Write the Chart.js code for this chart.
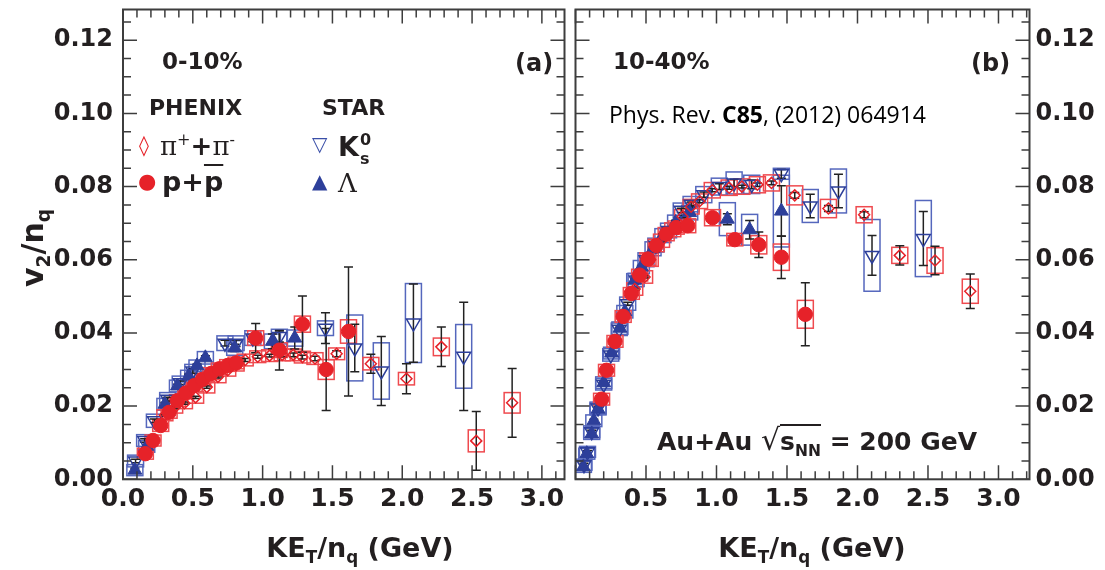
<!DOCTYPE html>
<html>
<head>
<meta charset="utf-8">
<script src="https://cdn.jsdelivr.net/npm/chart.js@4.4.1/dist/chart.umd.min.js"></script>
<style>
  body { margin: 0; background: #fff; }
  #wrap { position: relative; width: 1105px; height: 570px; overflow: hidden;
          font-family: "DejaVu Sans", sans-serif; font-weight: bold; color: #231f20; }
  canvas { position: absolute; top: 0; }
  #cA { left: 0; }
  #cB { left: 566px; }
  .t { position: absolute; white-space: nowrap; line-height: 1; }
  .t sub, .t sup { font-size: 62%; line-height: 0; }
</style>
</head>
<body>
<div id="wrap">
  <canvas id="cA" width="574" height="570"></canvas>
  <canvas id="cB" width="539" height="570"></canvas>

  <!-- panel (a) labels -->
  <div class="t" style="left:162px;top:50px;font-size:23px">0-10%</div>
  <div class="t" style="left:515px;top:51px;font-size:24px">(a)</div>
  <div class="t" style="left:149px;top:97px;font-size:22px">PHENIX</div>
  <div class="t" style="left:322px;top:97px;font-size:22px">STAR</div>

  <div class="t" style="left:139px;top:135px;font-size:20px;color:#e62229;font-weight:normal">◊</div>
  <div class="t" style="left:160px;top:133px;font-size:26px;font-family:'DejaVu Serif';font-weight:normal">π<sup>+</sup><span style="font-family:'DejaVu Sans';font-weight:bold">+</span>π<sup>-</sup></div>
  <div class="t" style="left:138px;top:171px;font-size:21px;color:#e62229;font-weight:normal">●</div>
  <div class="t" style="left:162px;top:168px;font-size:27px">p+<span style="text-decoration:overline">p</span></div>

  <div class="t" style="left:312px;top:134px;font-size:20px;color:#3a4fa8;font-weight:normal">▽</div>
  <div class="t" style="left:338px;top:133px;font-size:27px">K<span style="position:relative;display:inline-block;width:14px;height:1px"><span style="position:absolute;left:1px;top:-23px;font-size:16px">0</span><span style="position:absolute;left:1px;top:-4px;font-size:16px">s</span></span></div>
  <div class="t" style="left:312px;top:171px;font-size:20px;color:#2d3f9a;font-weight:normal">▲</div>
  <div class="t" style="left:338px;top:170px;font-size:26px;font-family:'DejaVu Serif';font-weight:normal">Λ</div>

  <!-- panel (b) labels -->
  <div class="t" style="left:613px;top:50px;font-size:23px">10-40%</div>
  <div class="t" style="left:971px;top:51px;font-size:24px">(b)</div>
  <div class="t" style="left:609px;top:103px;font-size:23px;font-family:'Open Sans';font-weight:normal;color:#000">Phys. Rev. <b>C85</b>, (2012) 064914</div>
  <div class="t" style="left:657px;top:425px;font-size:25px">Au+Au <span style="font-weight:normal;font-size:30px">√</span><span style="border-top:2px solid #231f20;padding-top:1px">s<sub>NN</sub></span> = 200 GeV</div>

  <!-- axis titles -->
  <div class="t" style="left:-27px;top:233px;width:120px;text-align:center;font-size:30px;transform:rotate(-90deg)">v<sub>2</sub>/n<sub>q</sub></div>
  <div class="t" style="left:160px;top:534px;width:400px;text-align:center;font-size:27px">KE<sub>T</sub>/n<sub>q</sub> (GeV)</div>
  <div class="t" style="left:612px;top:534px;width:400px;text-align:center;font-size:27px">KE<sub>T</sub>/n<sub>q</sub> (GeV)</div>
</div>

<script>
// each point: [KE_T/n_q, v2/n_q, stat error, sys error]
const protonA = [
  [0.16, 0.0070, 0.0004, 0.0015], [0.215, 0.0106, 0.0004, 0.0015], [0.27, 0.0147, 0.0004, 0.0016],
  [0.33, 0.0183, 0.0004, 0.0016], [0.39, 0.0215, 0.0004, 0.0016], [0.45, 0.0236, 0.0004, 0.0016],
  [0.51, 0.0256, 0.0004, 0.0016], [0.57, 0.0273, 0.0005, 0.0016], [0.63, 0.0289, 0.0005, 0.0016],
  [0.69, 0.0302, 0.0005, 0.0016], [0.75, 0.0311, 0.0006, 0.0016], [0.81, 0.0318, 0.0007, 0.0016],
  [0.95, 0.0386, 0.0040, 0.0020], [1.12, 0.0353, 0.0054, 0.0020], [1.285, 0.0424, 0.0077, 0.0022],
  [1.455, 0.0300, 0.0112, 0.0027], [1.615, 0.0404, 0.0176, 0.0032]
];
const pionA = [
  [0.30, 0.0175, 0.0003, 0.0015], [0.37, 0.0196, 0.0003, 0.0015], [0.44, 0.0208, 0.0003, 0.0015],
  [0.52, 0.0224, 0.0003, 0.0016], [0.60, 0.0252, 0.0003, 0.0016], [0.68, 0.0280, 0.0003, 0.0016],
  [0.75, 0.0298, 0.0003, 0.0016], [0.81, 0.0312, 0.0003, 0.0016], [0.875, 0.0326, 0.0004, 0.0016],
  [0.965, 0.0335, 0.0004, 0.0016], [1.05, 0.0338, 0.0004, 0.0016], [1.14, 0.0340, 0.0005, 0.0016],
  [1.22, 0.0340, 0.0005, 0.0016], [1.285, 0.0334, 0.0005, 0.0016], [1.375, 0.0330, 0.0006, 0.0016],
  [1.53, 0.0343, 0.0008, 0.0016], [1.775, 0.0316, 0.0026, 0.0017], [2.03, 0.0275, 0.0041, 0.0017],
  [2.28, 0.0362, 0.0054, 0.0024], [2.53, 0.0105, 0.0080, 0.0030], [2.787, 0.0209, 0.0094, 0.0028]
];
const lambdaA = [
  [0.085, 0.0025, 0.0005, 0.0015], [0.17, 0.0090, 0.0005, 0.0016], [0.30, 0.0205, 0.0005, 0.0016],
  [0.39, 0.0255, 0.0005, 0.0016], [0.47, 0.0282, 0.0005, 0.0016], [0.53, 0.0310, 0.0005, 0.0016],
  [0.59, 0.0332, 0.0006, 0.0017], [0.80, 0.0359, 0.0010, 0.0020], [1.07, 0.0377, 0.0020, 0.0020],
  [1.23, 0.0386, 0.0030, 0.0022]
];
const kaonA = [
  [0.09, 0.0050, 0.0005, 0.0016], [0.155, 0.0106, 0.0005, 0.0016], [0.225, 0.0160, 0.0005, 0.0018],
  [0.32, 0.0219, 0.0005, 0.0018], [0.41, 0.0264, 0.0005, 0.0018], [0.50, 0.0296, 0.0006, 0.0018],
  [0.73, 0.0372, 0.0008, 0.0020], [0.81, 0.0372, 0.0009, 0.0020], [0.93, 0.0386, 0.0010, 0.0020],
  [1.12, 0.0390, 0.0015, 0.0020], [1.45, 0.0413, 0.0042, 0.0020], [1.66, 0.0359, 0.0065, 0.0090],
  [1.85, 0.0296, 0.0094, 0.0077], [2.08, 0.0427, 0.0107, 0.0108], [2.44, 0.0336, 0.0148, 0.0087]
];

const protonB = [
  [0.185, 0.0219, 0.0003, 0.0016], [0.22, 0.0298, 0.0003, 0.0016], [0.28, 0.0377, 0.0003, 0.0016],
  [0.338, 0.0445, 0.0003, 0.0016], [0.396, 0.0508, 0.0003, 0.0016], [0.455, 0.0558, 0.0003, 0.0016],
  [0.514, 0.0602, 0.0003, 0.0017], [0.573, 0.0639, 0.0004, 0.0017], [0.643, 0.0670, 0.0004, 0.0018],
  [0.714, 0.0688, 0.0004, 0.0018], [0.796, 0.0693, 0.0005, 0.0019], [0.972, 0.0715, 0.0008, 0.0022],
  [1.13, 0.0655, 0.0010, 0.0017], [1.30, 0.0641, 0.0035, 0.0025], [1.46, 0.0607, 0.0058, 0.0036],
  [1.63, 0.0451, 0.0086, 0.0038]
];
const pionB = [
  [0.42, 0.0520, 0.0003, 0.0017], [0.49, 0.0553, 0.0003, 0.0017], [0.53, 0.0600, 0.0003, 0.0018],
  [0.61, 0.0652, 0.0003, 0.0018], [0.69, 0.0682, 0.0003, 0.0019], [0.76, 0.0718, 0.0003, 0.0019],
  [0.82, 0.0745, 0.0003, 0.0020], [0.88, 0.0760, 0.0004, 0.0020], [0.97, 0.0790, 0.0004, 0.0021],
  [1.09, 0.0797, 0.0004, 0.0021], [1.18, 0.0800, 0.0004, 0.0021], [1.29, 0.0805, 0.0005, 0.0022],
  [1.39, 0.0810, 0.0005, 0.0022], [1.555, 0.0776, 0.0008, 0.0026], [1.794, 0.0740, 0.0008, 0.0025],
  [2.047, 0.0723, 0.0008, 0.0022], [2.30, 0.0612, 0.0026, 0.0022], [2.55, 0.0598, 0.0039, 0.0035],
  [2.80, 0.0514, 0.0047, 0.0033]
];
const lambdaB = [
  [0.056, 0.0034, 0.0004, 0.0015], [0.08, 0.0070, 0.0004, 0.0015], [0.115, 0.0124, 0.0004, 0.0015],
  [0.13, 0.0160, 0.0004, 0.0016], [0.16, 0.0192, 0.0004, 0.0016], [0.20, 0.0264, 0.0004, 0.0016],
  [0.256, 0.0345, 0.0004, 0.0016], [0.315, 0.0413, 0.0004, 0.0017], [0.35, 0.0458, 0.0004, 0.0017],
  [0.42, 0.0544, 0.0004, 0.0018], [0.467, 0.0580, 0.0004, 0.0018], [0.55, 0.0630, 0.0005, 0.0019],
  [0.62, 0.0666, 0.0005, 0.0019], [0.71, 0.0702, 0.0006, 0.0020], [0.81, 0.0729, 0.0007, 0.0020],
  [1.077, 0.0711, 0.0015, 0.0045], [1.235, 0.0682, 0.0025, 0.0042], [1.46, 0.0733, 0.0069, 0.0098]
];
const kaonB = [
  [0.06, 0.0040, 0.0004, 0.0015], [0.085, 0.0075, 0.0004, 0.0015], [0.115, 0.0130, 0.0004, 0.0016],
  [0.16, 0.0195, 0.0004, 0.0016], [0.20, 0.0260, 0.0004, 0.0016], [0.25, 0.0340, 0.0004, 0.0017],
  [0.31, 0.0410, 0.0004, 0.0017], [0.37, 0.0480, 0.0004, 0.0018], [0.43, 0.0545, 0.0004, 0.0018],
  [0.50, 0.0600, 0.0005, 0.0019], [0.57, 0.0640, 0.0005, 0.0019], [0.66, 0.0680, 0.0005, 0.0020],
  [0.75, 0.0735, 0.0006, 0.0020], [0.82, 0.0752, 0.0006, 0.0021], [0.91, 0.0778, 0.0007, 0.0022],
  [1.02, 0.0800, 0.0008, 0.0023], [1.125, 0.0810, 0.0010, 0.0030], [1.25, 0.0806, 0.0012, 0.0025],
  [1.46, 0.0835, 0.0012, 0.0015], [1.665, 0.0747, 0.0032, 0.0045], [1.865, 0.0788, 0.0046, 0.0060],
  [2.103, 0.0612, 0.0054, 0.0098], [2.467, 0.0658, 0.0074, 0.0104]
];

const yMax = 0.1284;
const xMaxA = 3.162;
const xMaxB = 3.22;

const RED = '#e62229', RED_BOX = '#ef4a4f';
const BLUE = '#2d3f9a', BLUE_BOX = '#5567bd';
const INK = '#231f20';

function toPts(arr) {
    return arr.map(d => ({ x: d[0], y: d[1], stat: d[2], sys: d[3] }));
}

function makeSets(proton, pion, lambda, kaon) {
    // index 0 is drawn on top
    return [
        { label: 'p+pbar', data: toPts(proton), pointStyle: 'circle', pointRadius: 7.2,
          backgroundColor: RED, borderColor: RED, borderWidth: 1, boxColor: RED_BOX },
        { label: 'pi', data: toPts(pion), pointStyle: 'rectRot', pointRadius: 5.5,
          backgroundColor: 'rgba(255,255,255,0)', borderColor: RED, borderWidth: 1.5, boxColor: RED_BOX },
        { label: 'Lambda', data: toPts(lambda), pointStyle: 'triangle', pointRadius: 8,
          backgroundColor: BLUE, borderColor: BLUE, borderWidth: 1, boxColor: BLUE_BOX },
        { label: 'K0s', data: toPts(kaon), pointStyle: 'triangle', rotation: 180, pointRadius: 8,
          backgroundColor: 'rgba(255,255,255,0)', borderColor: BLUE, borderWidth: 1.5, boxColor: BLUE_BOX }
    ];
}

// sys boxes, stat bars, inward ticks and the frame
const decor = {
    id: 'decor',
    beforeDatasetsDraw(chart) {
        const { ctx, chartArea: a, scales: { x, y } } = chart;
        ctx.save();
        ctx.beginPath();
        ctx.rect(a.left, a.top, a.right - a.left, a.bottom - a.top);
        ctx.clip();
        const sets = chart.data.datasets.slice().reverse();
        sets.forEach(ds => {
            ctx.strokeStyle = ds.boxColor;
            ctx.lineWidth = 1.5;
            ds.data.forEach(p => {
                if (!p.sys) return;
                const px = x.getPixelForValue(p.x);
                const t = y.getPixelForValue(p.y + p.sys);
                const b = y.getPixelForValue(p.y - p.sys);
                ctx.strokeRect(px - 8, t, 16, b - t);
            });
        });
        ctx.strokeStyle = '#222';
        ctx.lineWidth = 1.5;
        sets.forEach(ds => {
            ds.data.forEach(p => {
                if (!p.stat) return;
                const px = x.getPixelForValue(p.x);
                const t = y.getPixelForValue(p.y + p.stat);
                const b = y.getPixelForValue(p.y - p.stat);
                ctx.beginPath();
                ctx.moveTo(px, t); ctx.lineTo(px, b);
                ctx.moveTo(px - 4.5, t); ctx.lineTo(px + 4.5, t);
                ctx.moveTo(px - 4.5, b); ctx.lineTo(px + 4.5, b);
                ctx.stroke();
            });
        });
        ctx.restore();
    },
    afterDraw(chart) {
        const { ctx, chartArea: a, scales: { x, y } } = chart;
        ctx.save();
        ctx.strokeStyle = '#3d3d3d';
        ctx.lineWidth = 1.5;
        ctx.beginPath();
        for (let i = 0; i * 0.005 <= y.max + 1e-9; i++) {
            const py = y.getPixelForValue(i * 0.005);
            const len = i % 4 === 0 ? 14 : 8;
            ctx.moveTo(a.left, py); ctx.lineTo(a.left + len, py);
            ctx.moveTo(a.right, py); ctx.lineTo(a.right - len, py);
        }
        for (let i = 0; i * 0.1 <= x.max + 1e-9; i++) {
            const px = x.getPixelForValue(i * 0.1);
            const len = i % 5 === 0 ? 14 : 8;
            ctx.moveTo(px, a.bottom); ctx.lineTo(px, a.bottom - len);
            ctx.moveTo(px, a.top); ctx.lineTo(px, a.top + len);
        }
        ctx.stroke();
        ctx.lineWidth = 2;
        ctx.strokeRect(a.left, a.top, a.right - a.left, a.bottom - a.top);
        ctx.restore();
    }
};

function buildChart(id, sets, xMax, yPos, yWidth, pad, hideZero) {
    return new Chart(document.getElementById(id), {
        type: 'scatter',
        data: { datasets: sets },
        options: {
            responsive: false,
            animation: false,
            devicePixelRatio: 1,
            layout: { padding: pad },
            plugins: { legend: { display: false }, tooltip: { enabled: false } },
            scales: {
                x: {
                    type: 'linear', position: 'bottom', min: 0, max: xMax,
                    grid: { display: false, drawTicks: false }, border: { display: false },
                    ticks: {
                        stepSize: 0.5, includeBounds: false, autoSkip: false, maxRotation: 0,
                        padding: 5, color: INK,
                        font: { family: 'DejaVu Sans', weight: 'bold', size: 25 },
                        callback: v => (hideZero && v === 0) ? '' : v.toFixed(1)
                    },
                    afterFit: s => { s.height = 90.7; s.paddingLeft = 0; s.paddingRight = 0; }
                },
                y: {
                    type: 'linear', position: yPos, min: 0, max: yMax,
                    grid: { display: false, drawTicks: false }, border: { display: false },
                    ticks: {
                        stepSize: 0.02, includeBounds: false, autoSkip: false,
                        padding: yPos === 'left' ? 10 : 6, color: INK,
                        font: { family: 'DejaVu Sans', weight: 'bold', size: 24 },
                        callback: v => v.toFixed(2)
                    },
                    afterFit: s => { s.width = yWidth; s.paddingTop = 0; s.paddingBottom = 0; }
                }
            }
        },
        plugins: [decor]
    });
}

buildChart('cA', makeSets(protonA, pionA, lambdaA, kaonA), xMaxA, 'left', 123,
           { top: 5, right: 2, left: 0, bottom: 0 }, false);
buildChart('cB', makeSets(protonB, pionB, lambdaB, kaonB), xMaxB, 'right', 75.5,
           { top: 5, right: 0, left: 6, bottom: 0 }, true);
</script>
</body>
</html>
